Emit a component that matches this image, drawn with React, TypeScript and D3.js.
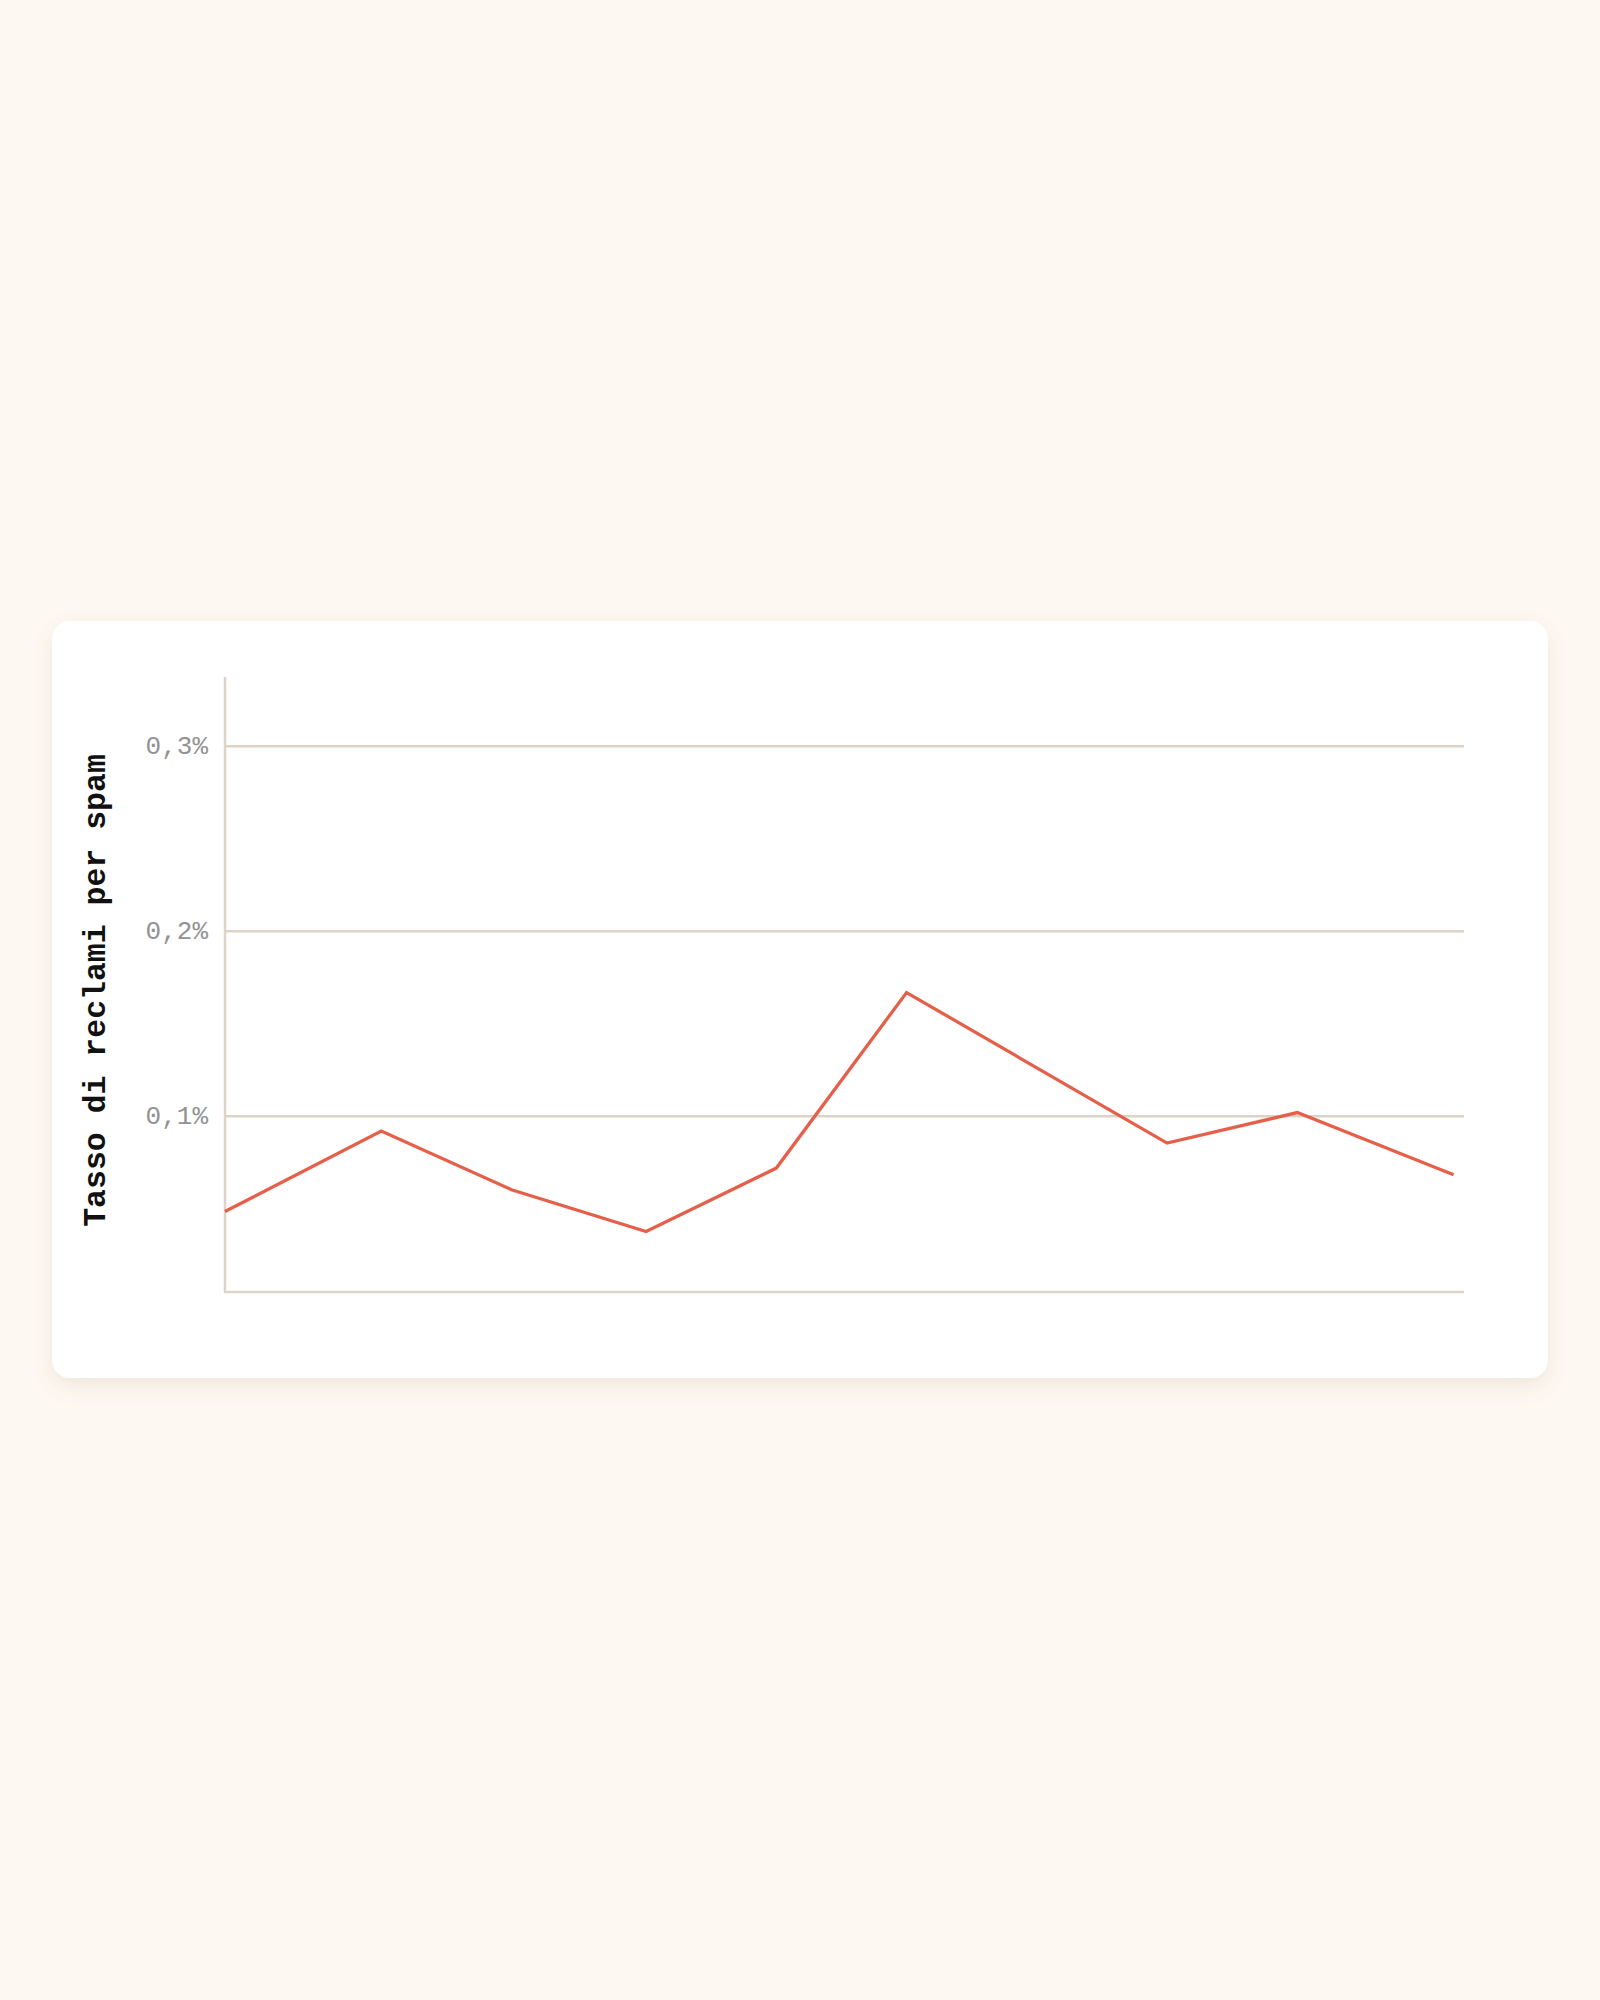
import React, { useMemo } from "react";
import * as d3 from "d3";

// days since the first observation
const dayOffsets = [0, 36, 66, 97, 127, 157, 217, 247, 283];
// spam complaint rate, in percent
const spamRates = [0.0485, 0.092, 0.0603, 0.0377, 0.072, 0.1669, 0.0855, 0.102, 0.0684];
const yTicks = [0.1, 0.2, 0.3];
const tickLabels = ["0,1%", "0,2%", "0,3%"];
const yLabel = "Tasso di reclami per spam";

const pageBg = "#fef8f2";
const gridColor = "#ddd3c7";
const lineColor = "#e5604b";

const width = 1600;
const height = 2000;
const card = { x: 52, y: 621, w: 1496, h: 757, r: 18 };
const marginLeft = 225;
const marginRight = 1464;
const marginTop = 677;
const marginBottom = 1292;

export default function App() {
    const x = useMemo(
        () => d3.scaleLinear([0, 285.4], [marginLeft, marginRight]),
        []
    );
    const y = useMemo(
        () => d3.scaleLinear([0.005, 0.3375], [marginBottom, marginTop]),
        []
    );

    const path = useMemo(
        () =>
            d3
                .line<number>()
                .x((_d, i) => x(dayOffsets[i]))
                .y((d) => y(d))(spamRates),
        [x, y]
    );

    return (
        <div style={{ position: "absolute", top: 0, left: 0, width, height, background: pageBg }}>
            <svg width={width} height={height} style={{ display: "block" }}>
                <defs>
                    <filter id="shadow" x="-10%" y="-10%" width="120%" height="130%">
                        <feDropShadow dx="0" dy="8" stdDeviation="10" floodColor="#8a6f4e" floodOpacity="0.12" />
                    </filter>
                </defs>
                <rect width={width} height={height} fill={pageBg} />
                <rect
                    x={card.x}
                    y={card.y}
                    width={card.w}
                    height={card.h}
                    rx={card.r}
                    fill="#fff"
                    filter="url(#shadow)"
                />
                <g>
                    {yTicks.map((d, i) => (
                        <g key={i}>
                            <line
                                x1={marginLeft}
                                x2={marginRight}
                                y1={y(d)}
                                y2={y(d)}
                                stroke={gridColor}
                                strokeWidth={2.5}
                            />
                            <text
                                x={marginLeft - 17}
                                y={y(d) + 1}
                                textAnchor="end"
                                dominantBaseline="middle"
                                fill="#929292"
                                fontFamily="'Liberation Mono', monospace"
                                fontSize={26}
                            >
                                {tickLabels[i]}
                            </text>
                        </g>
                    ))}
                </g>
                <line
                    x1={marginLeft}
                    x2={marginLeft}
                    y1={marginTop}
                    y2={marginBottom + 1}
                    stroke={gridColor}
                    strokeWidth={2.5}
                />
                <line
                    x1={marginLeft - 1}
                    x2={marginRight}
                    y1={marginBottom}
                    y2={marginBottom}
                    stroke={gridColor}
                    strokeWidth={2.5}
                />
                <path d={path ?? ""} fill="none" stroke={lineColor} strokeWidth={3.3} strokeLinejoin="miter" />
                <text
                    transform={`translate(105,${(marginTop + marginBottom) / 2 + 6}) rotate(-90)`}
                    textAnchor="middle"
                    fontFamily="'Liberation Mono', 'Courier New', monospace"
                    fontWeight="bold"
                    fontSize={31.5}
                    fill="#111"
                >
                    {yLabel}
                </text>
            </svg>
        </div>
    );
}
